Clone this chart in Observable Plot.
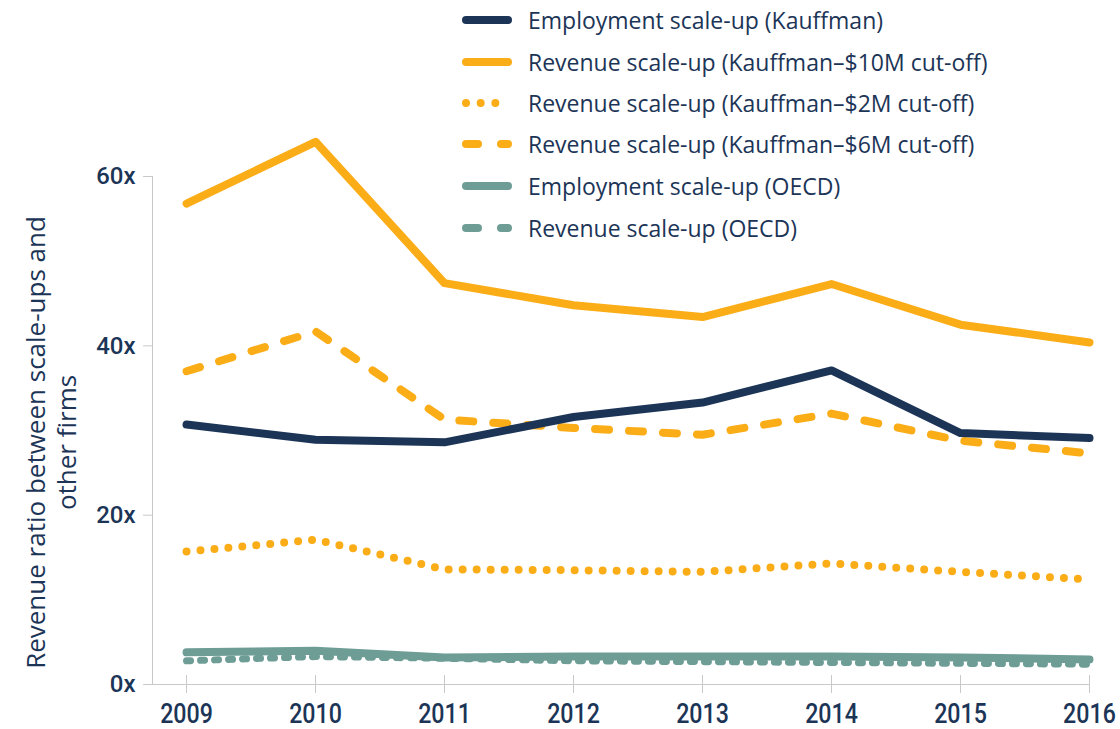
<!DOCTYPE html>
<html>
<head>
<meta charset="utf-8">
<script src="https://cdn.jsdelivr.net/npm/d3@7"></script>
<script src="https://cdn.jsdelivr.net/npm/@observablehq/plot@0.6"></script>
<style>
  html, body { margin: 0; padding: 0; background: #fff; }
  #wrap { position: relative; width: 1120px; height: 729px; }
  #legend { position: absolute; left: 458px; top: 0px; font-family: "Open Sans", "Noto Sans", sans-serif; font-size: 23px; color: #1c3557; }
  .row { position: absolute; left: 0; height: 30px; display: flex; align-items: center; white-space: nowrap; }
  .row svg { margin-right: 10px; flex: none; }
</style>
</head>
<body>
<div id="wrap">
  <div id="chart"></div>
  <div id="legend"></div>
</div>
<script>
const years = [2009, 2010, 2011, 2012, 2013, 2014, 2015, 2016];
const seriesNames = [
  "Employment scale-up (Kauffman)",
  "Revenue scale-up (Kauffman–$10M cut-off)",
  "Revenue scale-up (Kauffman–$2M cut-off)",
  "Revenue scale-up (Kauffman–$6M cut-off)",
  "Employment scale-up (OECD)",
  "Revenue scale-up (OECD)"
];
const employmentKauffman = [30.7, 28.9, 28.6, 31.6, 33.3, 37.1, 29.7, 29.1];
const revenue10M = [56.8, 64.1, 47.4, 44.8, 43.4, 47.3, 42.5, 40.4];
const revenue2M = [15.7, 17.1, 13.6, 13.5, 13.3, 14.3, 13.3, 12.4];
const revenue6M = [37.0, 41.7, 31.3, 30.3, 29.5, 32.0, 28.8, 27.3];
const employmentOECD = [3.8, 4.0, 3.2, 3.3, 3.3, 3.3, 3.2, 2.95];
const revenueOECD = [2.8, 3.3, 3.1, 2.8, 2.7, 2.6, 2.5, 2.4];
const yTicks = [0, 20, 40, 60];
const yLabel = "Revenue ratio between scale-ups and\nother firms";

const NAVY = "#1c3557", ORANGE = "#fbad18", TEAL = "#6e9d96", AXIS = "#c9c9c9";
const seriesValues = [employmentKauffman, revenue10M, revenue2M, revenue6M, employmentOECD, revenueOECD];
const styles = [
  {stroke: NAVY, dash: null, w: 8},
  {stroke: ORANGE, dash: null, w: 8},
  {stroke: ORANGE, dash: "0,14", w: 8},
  {stroke: ORANGE, dash: "14,20", w: 8},
  {stroke: TEAL, dash: null, w: 8},
  {stroke: TEAL, dash: "4,10", w: 7}
];
const drawOrder = [4, 5, 2, 3, 0, 1];

const rows = (i) => years.map((y, j) => ({year: y, value: seriesValues[i][j], series: seriesNames[i]}));

const lineMarks = drawOrder.map(i => Plot.line(rows(i), {
  x: "year", y: "value",
  stroke: styles[i].stroke, strokeWidth: styles[i].w,
  strokeDasharray: styles[i].dash, strokeLinecap: "round", strokeLinejoin: "round"
}));

const chart = Plot.plot({
  width: 1120, height: 729,
  marginLeft: 152, marginRight: 31, marginTop: 176, marginBottom: 45,
  style: {background: "transparent", overflow: "visible"},
  x: {domain: [2008.736, 2016]},
  y: {domain: [0, 60]},
  marks: [
    Plot.axisY({ticks: yTicks, tickSize: 9, stroke: AXIS, tickPadding: 8, label: null,
      tickFormat: d => d + "x", fill: NAVY, fontSize: 24, fontWeight: 500,
      fontFamily: "Roboto, sans-serif"}),
    Plot.axisX({ticks: years, tickSize: 18, dy: -9, text: null, stroke: AXIS, label: null}),
    Plot.axisX({ticks: years, tickSize: 0, tickPadding: 19, tickFormat: d => String(d), label: null,
      fill: NAVY, fontSize: 27, fontWeight: 500, className: "xlab",
      fontFamily: "Roboto, sans-serif"}),
    Plot.ruleY([0], {stroke: AXIS, strokeWidth: 1}),
    Plot.ruleX([2008.736], {y1: 0, y2: 60, stroke: AXIS, strokeWidth: 1}),
    Plot.text([yLabel], {frameAnchor: "left", textAnchor: "middle", lineAnchor: "middle", rotate: -90, dx: -102, dy: 12, fill: NAVY,
      fontSize: 26, fontFamily: "'Open Sans', sans-serif", lineHeight: 1.2}),
    ...lineMarks
  ]
});
chart.querySelectorAll(".xlab text").forEach(t => {
  const tr = t.getAttribute("transform") || "";
  t.setAttribute("transform", tr + " scale(0.86,1)");
});
document.getElementById("chart").appendChild(chart);

// Legend
const legend = document.getElementById("legend");
const rowY = [5, 47, 88, 129, 171, 213];
seriesNames.forEach((name, i) => {
  const s = styles[i];
  const row = document.createElement("div");
  row.className = "row";
  row.style.top = rowY[i] + "px";
  let x1 = 8, x2 = 50, legendDash = null;
  if (i === 2) { legendDash = "0,14.67"; }
  if (i === 3 || i === 5) { legendDash = "12,23"; }
  row.innerHTML = `<svg width="60" height="14"><line x1="${x1}" x2="${x2}" y1="7" y2="7" stroke="${s.stroke}" stroke-width="8" stroke-linecap="round" ${legendDash ? `stroke-dasharray="${legendDash}"` : ""}/></svg><span>${name}</span>`;
  legend.appendChild(row);
});
</script>
</body>
</html>
